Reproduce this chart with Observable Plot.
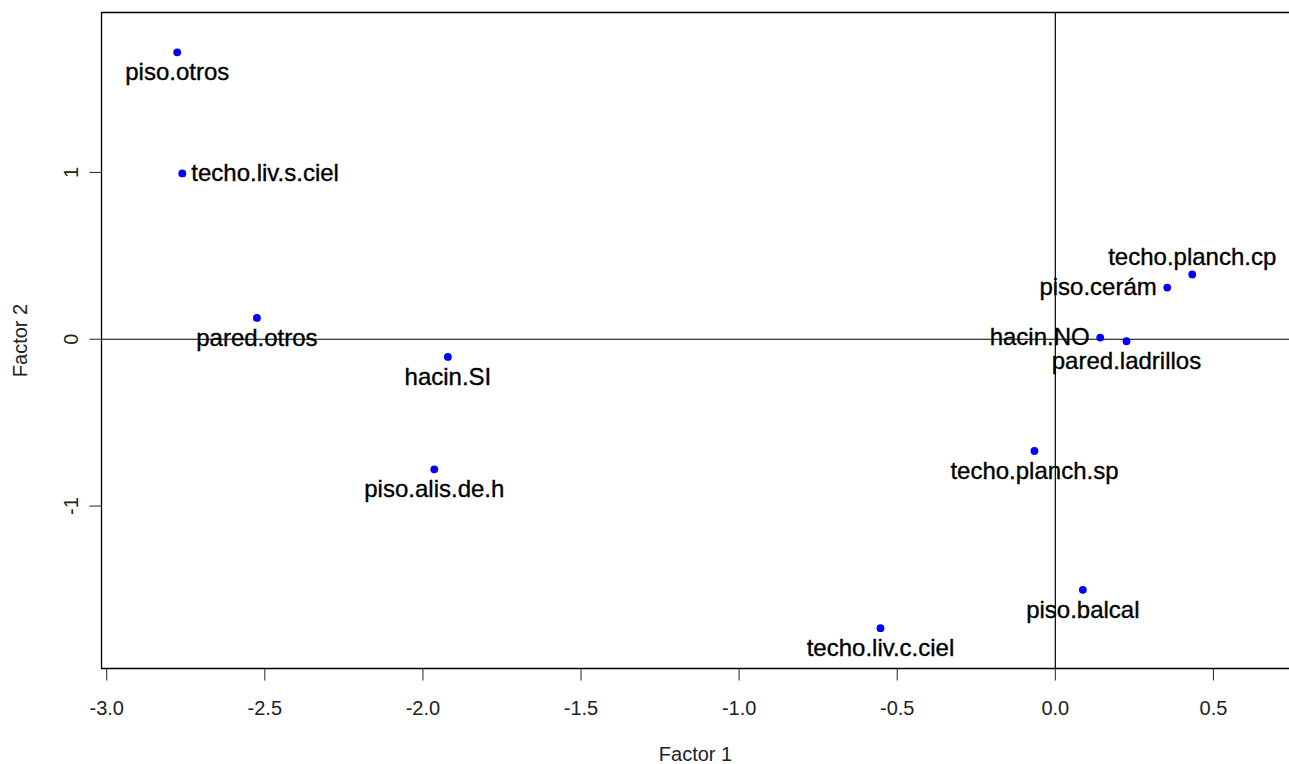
<!DOCTYPE html>
<html><head><meta charset="utf-8">
<script src="https://cdn.jsdelivr.net/npm/d3@7"></script>
<script src="https://cdn.jsdelivr.net/npm/@observablehq/plot@0.6"></script>
<style>html,body{margin:0;padding:0;background:#fff;overflow:hidden}</style>
</head><body><div id="chart"></div>
<script>
// Category labels and coordinates (Factor 1, Factor 2)
const labels = ["piso.otros","techo.liv.s.ciel","pared.otros","hacin.SI","piso.alis.de.h","techo.liv.c.ciel","techo.planch.sp","piso.balcal","hacin.NO","pared.ladrillos","piso.cerám","techo.planch.cp"];
const factor1 = [-2.777,-2.761,-2.525,-1.921,-1.964,-0.553,-0.066,0.087,0.142,0.225,0.354,0.433];
const factor2 = [1.720,0.994,0.128,-0.106,-0.780,-1.732,-0.670,-1.502,0.010,-0.012,0.310,0.388];
// side of the point where each label is written
const labelSide = ["below","right","below","below","below","below","below","below","left","below","left","above"];
const xTicks = [-3,-2.5,-2,-1.5,-1,-0.5,0,0.5];
const yTicks = [-1,0,1];
const xDomain = [-3.0165, 0.7406];
const yDomain = [-1.9736, 1.9586];

const data = labels.map((label,i)=>({label, f1: factor1[i], f2: factor2[i], side: labelSide[i]}));
const sideOpts = {
  below:{textAnchor:"middle",dx:0,dy:20.3},
  right:{textAnchor:"start",dx:9,dy:0},
  left:{textAnchor:"end",dx:-10.5,dy:0},
  above:{textAnchor:"middle",dx:0,dy:-17}
};
const font = "'Liberation Sans', Arial, sans-serif";
const chart = Plot.plot({
  width:1289, height:764,
  marginLeft:101, marginRight:0, marginTop:12, marginBottom:96,
  style:{fontFamily:font, fontSize:"20px", background:"#fff", color:"#222"},
  x:{domain:xDomain},
  y:{domain:yDomain},
  marks:[
    Plot.ruleX([0],{stroke:"#000", strokeWidth:1.2}),
    Plot.ruleY([0],{stroke:"#000", strokeWidth:1.2}),
    Plot.ruleY(yDomain,{stroke:"#000", strokeWidth:1.3}),
    Plot.ruleX([xDomain[0]],{stroke:"#000", strokeWidth:1.3}),
    Plot.axisX({ticks:xTicks, tickFormat:d=>d.toFixed(1), tickSize:12.5, tickPadding:20, fontSize:20,
      label:"Factor 1", labelAnchor:"center", labelOffset:92, labelArrow:"none"}),
    Plot.axisY({ticks:yTicks, tickFormat:d=>String(d), tickSize:11.5, tickRotate:-90, tickPadding:12.5, fontSize:20,
      label:"Factor 2", labelAnchor:"center", labelOffset:89, labelArrow:"none"}),
    Plot.dot(data,{x:"f1", y:"f2", r:3.9, fill:"#0000ff", stroke:null}),
    ...Object.keys(sideOpts).map(s => Plot.text(data.filter(d=>d.side===s), {
      x:"f1", y:"f2", text:"label", fill:"#000", stroke:"#000", strokeWidth:0.35,
      fontSize:24, fontFamily:font, lineAnchor:"middle", ...sideOpts[s]
    }))
  ]
});
document.getElementById("chart").appendChild(chart);
</script>
</body></html>
